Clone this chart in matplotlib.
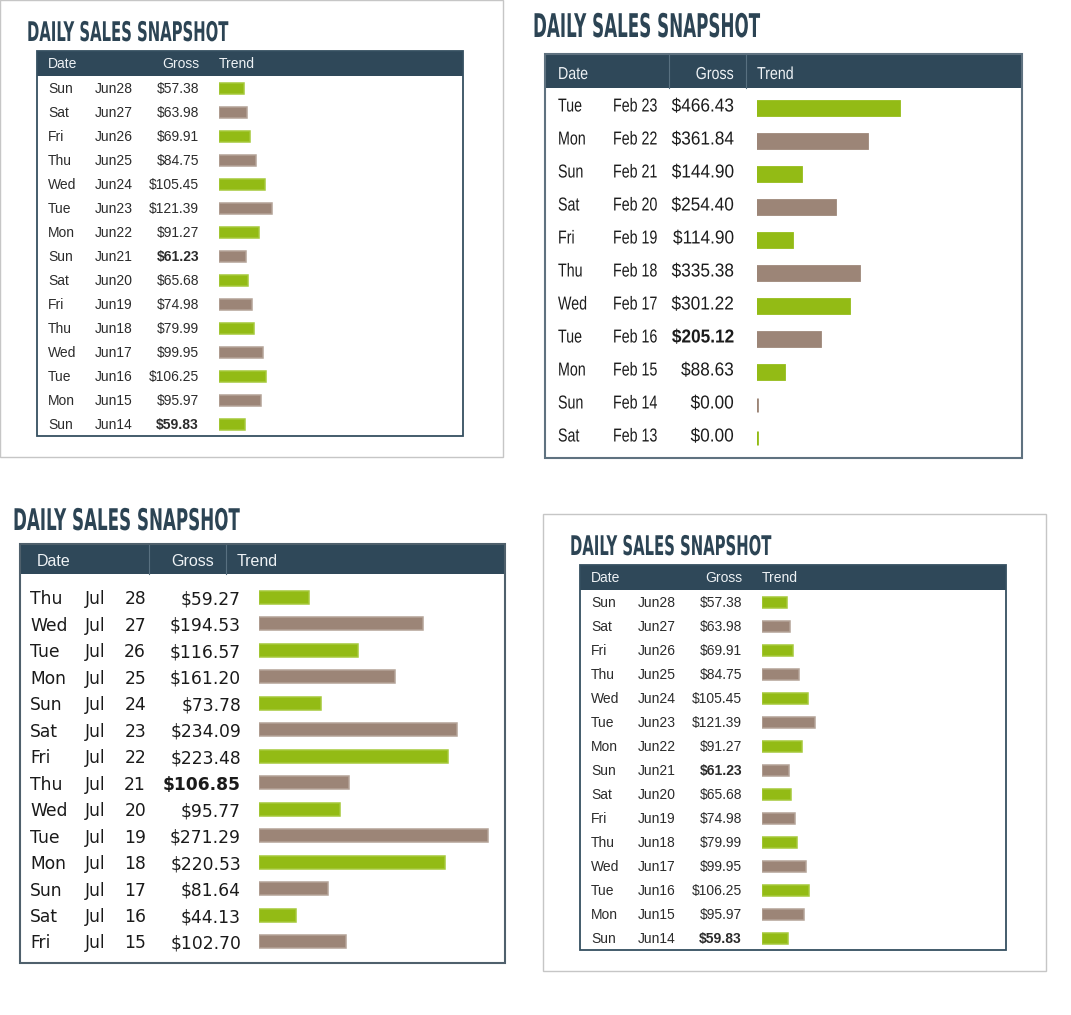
import matplotlib
matplotlib.use("Agg")
import matplotlib.pyplot as plt
import matplotlib.patheffects as pe
from matplotlib.transforms import Affine2D
from matplotlib.patches import Rectangle
from matplotlib.lines import Line2D

# %% data
june_days = ["Sun", "Sat", "Fri", "Thu", "Wed", "Tue", "Mon", "Sun",
             "Sat", "Fri", "Thu", "Wed", "Tue", "Mon", "Sun"]
june_dates = ["Jun28", "Jun27", "Jun26", "Jun25", "Jun24", "Jun23", "Jun22", "Jun21",
              "Jun20", "Jun19", "Jun18", "Jun17", "Jun16", "Jun15", "Jun14"]
june_gross = [57.38, 63.98, 69.91, 84.75, 105.45, 121.39, 91.27, 61.23,
              65.68, 74.98, 79.99, 99.95, 106.25, 95.97, 59.83]
june_bold = ["Jun21", "Jun14"]

feb_days = ["Tue", "Mon", "Sun", "Sat", "Fri", "Thu", "Wed", "Tue", "Mon", "Sun", "Sat"]
feb_dates = ["Feb 23", "Feb 22", "Feb 21", "Feb 20", "Feb 19", "Feb 18",
             "Feb 17", "Feb 16", "Feb 15", "Feb 14", "Feb 13"]
feb_gross = [466.43, 361.84, 144.90, 254.40, 114.90, 335.38,
             301.22, 205.12, 88.63, 0.00, 0.00]
feb_bold = ["Feb 16"]

jul_days = ["Thu", "Wed", "Tue", "Mon", "Sun", "Sat", "Fri",
            "Thu", "Wed", "Tue", "Mon", "Sun", "Sat", "Fri"]
jul_dates = ["Jul 28", "Jul 27", "Jul 26", "Jul 25", "Jul 24", "Jul 23", "Jul 22",
             "Jul 21", "Jul 20", "Jul 19", "Jul 18", "Jul 17", "Jul 16", "Jul 15"]
jul_gross = [59.27, 194.53, 116.57, 161.20, 73.78, 234.09, 223.48,
             106.85, 95.77, 271.29, 220.53, 81.64, 44.13, 102.70]
jul_bold = ["Jul 21"]

headers = ["Date", "Gross", "Trend"]
title_text = "DAILY SALES SNAPSHOT"

# %% style
GREEN, GREEN_EDGE = "#93bb15", "#a6c93a"
TAUPE, TAUPE_EDGE = "#9c8577", "#b4a397"
HEADER_C = "#2f4859"
TITLE_C = "#2c4454"
FRAME_C = "#c6c6c6"

FIG_W, FIG_H = 1071, 1015
fig = plt.figure(figsize=(FIG_W / 100, FIG_H / 100), dpi=100)
fig.patch.set_facecolor("white")
# image pixel coords, origin top left
px = Affine2D().scale(1 / FIG_W, -1 / FIG_H).translate(0, 1) + fig.transFigure
renderer = fig.canvas.get_renderer()


class Squeeze(pe.AbstractPathEffect):
    """squeeze glyphs horizontally around the left or right end (poor man's condensed font)"""
    def __init__(self, sx, anchor="left"):
        super().__init__()
        self.sx = sx
        self.anchor = anchor

    def draw_path(self, renderer, gc, tpath, affine, rgbFace=None):
        if self.anchor == "right":
            x0 = tpath.get_extents(affine).x1
        else:
            x0 = affine.get_matrix()[0, 2]
        squeeze = Affine2D().translate(-x0, 0).scale(self.sx, 1).translate(x0, 0)
        renderer.draw_path(gc, tpath, affine + squeeze, rgbFace)


def put(x, y, s, ha="left", sx=1.0, **kw):
    t = fig.text(x, y, s, transform=px, ha=ha, va="baseline", **kw)
    if sx != 1.0:
        t.set_path_effects([Squeeze(sx, ha)])
    return t


def draw_title(x, base, width, size):
    t = put(x, base, title_text, fontsize=size, fontweight="bold", color=TITLE_C,
            family="DejaVu Sans")
    w = t.get_window_extent(renderer).width
    t.set_path_effects([Squeeze(width / w)])


def draw_panel(p, days, dates, gross, bold):
    ox, oy = p["ox"], p["oy"]
    if p["frame"]:
        fx0, fy0, fx1, fy1 = p["frame"]
        fig.add_artist(Rectangle((fx0 + ox, fy0 + oy), fx1 - fx0, fy1 - fy0, transform=px,
                                 fill=False, ec=FRAME_C, lw=1.0))
    tx, ty, tw, ts = p["title"]
    draw_title(tx + ox, ty + oy, tw, ts)

    x0, y0, x1, y1 = [v + o for v, o in zip(p["table"], (ox, oy, ox, oy))]
    hb = p["hb"] + oy
    fig.add_artist(Rectangle((x0, y0), x1 - x0, hb - y0, transform=px, fc=HEADER_C, ec="none"))
    for d in p["dividers"]:
        fig.add_artist(Line2D([d + ox, d + ox], [y0 + 1, hb], transform=px, color="#587080", lw=0.8))
    fig.add_artist(Rectangle((x0, y0), x1 - x0, y1 - y0, transform=px, fill=False,
                             ec=p["border"], lw=p["border_lw"]))

    hx = p["head_x"]
    hfont = dict(fontsize=p["head_size"], color="#eef2f5", family=p["head_font"], sx=p["head_sx"])
    put(hx[0] + ox, p["head_base"] + oy, headers[0], ha="left", **hfont)
    put(hx[1] + ox, p["head_base"] + oy, headers[1], ha="right", **hfont)
    put(hx[2] + ox, p["head_base"] + oy, headers[2], ha="left", **hfont)

    # trend bars
    bx = p["bar_x"] + ox
    r0, dy = p["r0"] + oy, p["dy"]
    ax = fig.add_axes([bx / FIG_W, 1 - y1 / FIG_H, (x1 - 2 - bx) / FIG_W, (y1 - hb) / FIG_H])
    ax.set_axis_off()
    n = len(gross)
    fills = [GREEN if i % 2 == 0 else TAUPE for i in range(n)]
    if p["light_edge"]:
        edges = [GREEN_EDGE if i % 2 == 0 else TAUPE_EDGE for i in range(n)]
    else:
        edges = fills
    ax.barh(range(n), gross, height=p["bar_h"] / dy, color=fills, edgecolor=edges,
            linewidth=p["bar_lw"])
    ax.set_xlim(0, (x1 - 2 - bx) / p["scale"])
    ax.set_ylim((y1 - r0) / dy, (hb - r0) / dy)

    # text columns
    cx = [c + ox if c is not None else None for c in p["cols"]]
    sx_word, sx_num = p["body_sx"]
    tf = dict(fontsize=p["size"], color=p["color"], family=p["font"])
    for i in range(n):
        yb = r0 + i * dy + p["base_off"]
        put(cx[0], yb, days[i], sx=sx_word, **tf)
        if cx[2] is None:
            put(cx[1], yb, dates[i], sx=sx_word, **tf)
        else:
            mon, num = dates[i].split()
            put(cx[1], yb, mon, **tf)
            put(cx[2], yb, num, ha="right", **tf)
        put(cx[3], yb, f"${gross[i]:,.2f}", ha="right", sx=sx_num,
            fontweight="bold" if dates[i] in bold else "normal", **tf)


# %% panel layouts (pixels)
june_panel = dict(ox=0, oy=0, frame=(0, 0, 503, 457), title=(27, 41, 202, 19.5),
                  table=(37, 51, 463, 436), hb=76, border="#354f60", border_lw=1.3,
                  dividers=[], head_base=68, head_size=10, head_font="Liberation Sans",
                  head_sx=1.0, head_x=(48, 199, 219), font="Liberation Sans", size=10,
                  color="#2b2b2b", body_sx=(1.0, 1.0),
                  cols=(48, 95, None, 199), r0=88, dy=24, base_off=5,
                  bar_x=219, bar_h=11, bar_lw=1.1, light_edge=True, scale=0.44)

feb_panel = dict(ox=0, oy=0, frame=None, title=(533, 37, 227, 23.5),
                 table=(545, 54, 1022, 458), hb=88, border="#5f7280", border_lw=1.5,
                 dividers=[669, 746], head_base=79, head_size=12.5, head_font="Liberation Sans",
                 head_sx=0.82, head_x=(558, 734, 757), font="Liberation Sans", size=13.5,
                 color="#1c1c1c", body_sx=(0.76, 0.92),
                 cols=(558, 613, None, 734), r0=108, dy=33, base_off=3.5,
                 bar_x=757, bar_h=13.5, bar_lw=2.0, light_edge=False, scale=0.305)

jul_panel = dict(ox=0, oy=0, frame=None, title=(13, 530, 227, 21.5),
                 table=(20, 544, 505, 963), hb=574, border="#4f606c", border_lw=1.5,
                 dividers=[149, 226], head_base=566, head_size=11.5, head_font="Liberation Sans",
                 head_sx=1.0, head_x=(37, 214, 237), font="DejaVu Sans", size=12.3,
                 color="#1a1a1a", body_sx=(1.0, 1.0),
                 cols=(30, 85, 146, 241), r0=597.5, dy=26.46, base_off=7,
                 bar_x=259, bar_h=13, bar_lw=1.1, light_edge=True, scale=0.845)

june_copy = dict(june_panel, ox=543, oy=514)

draw_panel(june_panel, june_days, june_dates, june_gross, june_bold)
draw_panel(feb_panel, feb_days, feb_dates, feb_gross, feb_bold)
draw_panel(jul_panel, jul_days, jul_dates, jul_gross, jul_bold)
draw_panel(june_copy, june_days, june_dates, june_gross, june_bold)

fig.savefig("out.png", dpi=100, facecolor="white")
